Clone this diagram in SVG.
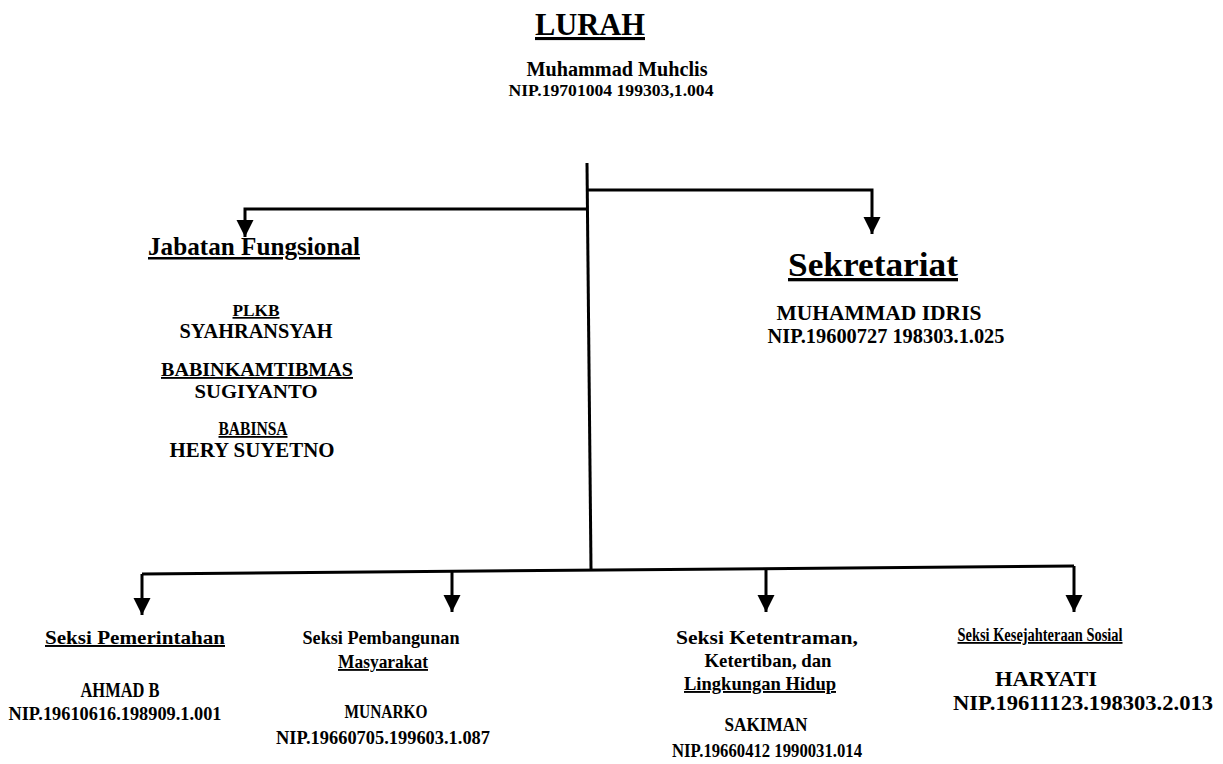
<svg xmlns="http://www.w3.org/2000/svg" width="1223" height="764" viewBox="0 0 1223 764">
<defs>
<style>
text{font-family:"Liberation Serif","Times New Roman",serif;font-weight:bold;fill:#000;text-anchor:middle}
.u{text-decoration:underline}
.conn{fill:none;stroke:#000;stroke-width:3}
</style>
<marker id="ah" markerUnits="userSpaceOnUse" markerWidth="20" markerHeight="18" refX="17" refY="8.5" orient="auto">
<path d="M0,0 L17,8.5 L0,17 z" fill="#000"/>
</marker>
</defs>
<rect width="1223" height="764" fill="#fff"/>
<g id="connectors">
<path class="conn" d="M587,163 L591,569"/>
<path class="conn" d="M587,190 H872 V234" marker-end="url(#ah)"/>
<path class="conn" d="M587,209 H245 V237" marker-end="url(#ah)"/>
<path class="conn" d="M142,574 L1074,566"/>
<path class="conn" d="M142,574 V615" marker-end="url(#ah)"/>
<path class="conn" d="M452,571 V612" marker-end="url(#ah)"/>
<path class="conn" d="M766,569 V612" marker-end="url(#ah)"/>
<path class="conn" d="M1074,566 V612" marker-end="url(#ah)"/>
</g>
<g id="lurah">
<text class="u" x="590" y="35" font-size="31" textLength="110" lengthAdjust="spacingAndGlyphs">LURAH</text>
<text x="617" y="76" font-size="20" textLength="181" lengthAdjust="spacingAndGlyphs">Muhammad Muhclis</text>
<text x="611" y="96" font-size="17" textLength="205" lengthAdjust="spacingAndGlyphs">NIP.19701004 199303,1.004</text>
</g>
<g id="jabatan-fungsional">
<text class="u" x="254" y="255" font-size="25" textLength="212" lengthAdjust="spacingAndGlyphs">Jabatan Fungsional</text>
<text class="u" x="256" y="316" font-size="17" textLength="47" lengthAdjust="spacingAndGlyphs">PLKB</text>
<text x="256" y="338" font-size="20" textLength="153" lengthAdjust="spacingAndGlyphs">SYAHRANSYAH</text>
<text class="u" x="257" y="376" font-size="18.5" textLength="192" lengthAdjust="spacingAndGlyphs">BABINKAMTIBMAS</text>
<text x="256" y="398" font-size="19.5" textLength="123" lengthAdjust="spacingAndGlyphs">SUGIYANTO</text>
<text class="u" x="253" y="435" font-size="18" textLength="69" lengthAdjust="spacingAndGlyphs">BABINSA</text>
<text x="252" y="457" font-size="20" textLength="165" lengthAdjust="spacingAndGlyphs">HERY SUYETNO</text>
</g>
<g id="sekretariat">
<text class="u" x="873" y="276" font-size="33" textLength="170" lengthAdjust="spacingAndGlyphs">Sekretariat</text>
<text x="879" y="320" font-size="21" textLength="205" lengthAdjust="spacingAndGlyphs">MUHAMMAD IDRIS</text>
<text x="886" y="343" font-size="20.5" textLength="237" lengthAdjust="spacingAndGlyphs">NIP.19600727 198303.1.025</text>
</g>
<g id="seksi-pemerintahan">
<text class="u" x="135" y="644" font-size="19.5" textLength="180" lengthAdjust="spacingAndGlyphs">Seksi Pemerintahan</text>
<text x="120" y="697" font-size="20" textLength="79" lengthAdjust="spacingAndGlyphs">AHMAD B</text>
<text x="115" y="720" font-size="19" textLength="213" lengthAdjust="spacingAndGlyphs">NIP.19610616.198909.1.001</text>
</g>
<g id="seksi-pembangunan">
<text x="381" y="644" font-size="19" textLength="157" lengthAdjust="spacingAndGlyphs">Seksi Pembangunan</text>
<text class="u" x="383" y="668" font-size="18.5" textLength="90" lengthAdjust="spacingAndGlyphs">Masyarakat</text>
<text x="386" y="718" font-size="19.5" textLength="83" lengthAdjust="spacingAndGlyphs">MUNARKO</text>
<text x="383" y="744" font-size="19" textLength="214" lengthAdjust="spacingAndGlyphs">NIP.19660705.199603.1.087</text>
</g>
<g id="seksi-ketentraman">
<text x="767" y="644" font-size="19.5" textLength="182" lengthAdjust="spacingAndGlyphs">Seksi Ketentraman,</text>
<text x="768" y="667" font-size="19" textLength="127" lengthAdjust="spacingAndGlyphs">Ketertiban, dan</text>
<text class="u" x="760" y="690" font-size="19" textLength="152" lengthAdjust="spacingAndGlyphs">Lingkungan Hidup</text>
<text x="766" y="731" font-size="19.5" textLength="83" lengthAdjust="spacingAndGlyphs">SAKIMAN</text>
<text x="767" y="757" font-size="19" textLength="190" lengthAdjust="spacingAndGlyphs">NIP.19660412 1990031.014</text>
</g>
<g id="seksi-kesejahteraan">
<text class="u" x="1040" y="641" font-size="18" textLength="165" lengthAdjust="spacingAndGlyphs">Seksi Kesejahteraan Sosial</text>
<text x="1046" y="686" font-size="21" textLength="102" lengthAdjust="spacingAndGlyphs">HARYATI</text>
<text x="1083" y="710" font-size="21.5" textLength="260" lengthAdjust="spacingAndGlyphs">NIP.19611123.198303.2.013</text>
</g>
</svg>
